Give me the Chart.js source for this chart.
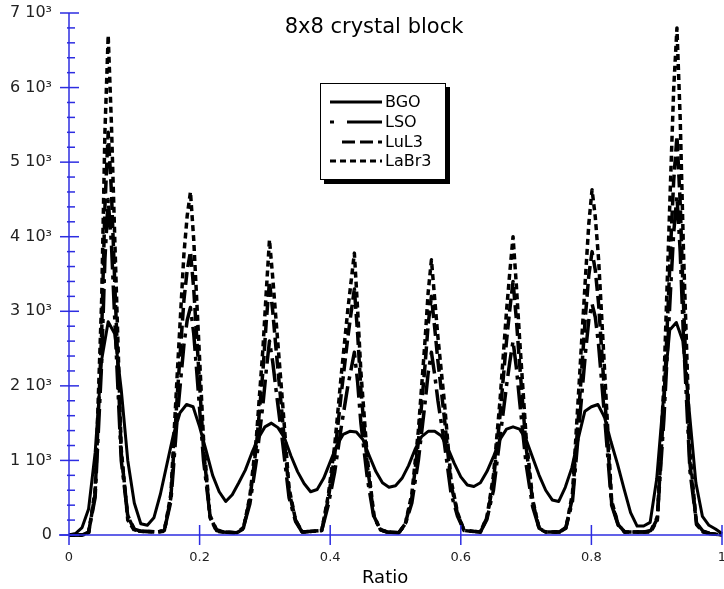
<!DOCTYPE html>
<html>
<head>
<meta charset="utf-8">
<script src="https://cdn.jsdelivr.net/npm/chart.js@4/dist/chart.umd.min.js"></script>
<style>
  html, body { margin: 0; padding: 0; background: #fff; }
  #wrap { width: 724px; height: 589px; }
</style>
</head>
<body>
<div id="wrap"><canvas id="c" width="724" height="589"></canvas></div>
<script>
// ---------------- DATA ----------------
const chartTitle = '8x8 crystal block';
const xAxisTitle = 'Ratio';
const seriesNames = ['BGO', 'LSO', 'LuL3', 'LaBr3'];
const xTickLabels = ['0', '0.2', '0.4', '0.6', '0.8', '1'];
const yTickLabels = ['0', '1 10³', '2 10³', '3 10³', '4 10³', '5 10³', '6 10³', '7 10³'];

// BGO (broad peaks) sampled every 0.01 in ratio
const bgoRatio = [
  0.00, 0.01, 0.02, 0.03, 0.04, 0.05, 0.06, 0.07, 0.08, 0.09,
  0.10, 0.11, 0.12, 0.13, 0.14, 0.15, 0.16, 0.17, 0.18, 0.19,
  0.20, 0.21, 0.22, 0.23, 0.24, 0.25, 0.26, 0.27, 0.28, 0.29,
  0.30, 0.31, 0.32, 0.33, 0.34, 0.35, 0.36, 0.37, 0.38, 0.39,
  0.40, 0.41, 0.42, 0.43, 0.44, 0.45, 0.46, 0.47, 0.48, 0.49,
  0.50, 0.51, 0.52, 0.53, 0.54, 0.55, 0.56, 0.57, 0.58, 0.59,
  0.60, 0.61, 0.62, 0.63, 0.64, 0.65, 0.66, 0.67, 0.68, 0.69,
  0.70, 0.71, 0.72, 0.73, 0.74, 0.75, 0.76, 0.77, 0.78, 0.79,
  0.80, 0.81, 0.82, 0.83, 0.84, 0.85, 0.86, 0.87, 0.88, 0.89,
  0.90, 0.91, 0.92, 0.93, 0.94, 0.95, 0.96, 0.97, 0.98, 0.99,
  1.00
];
const bgoCounts = [
  0, 20, 100, 350, 1100, 2350, 2860, 2700, 1950, 1000,
  430, 150, 130, 230, 550, 950, 1350, 1640, 1750, 1720,
  1450, 1130, 800, 580, 450, 540, 700, 870, 1100, 1300,
  1450, 1500, 1440, 1300, 1060, 850, 690, 580, 610, 760,
  980, 1200, 1350, 1390, 1380, 1280, 1060, 850, 700, 640,
  660, 760, 930, 1150, 1320, 1390, 1390, 1330, 1170, 960,
  780, 670, 650, 700, 850, 1050, 1280, 1420, 1450, 1420,
  1280, 1040, 800, 600, 470, 450, 640, 900, 1300, 1660,
  1720, 1750, 1580, 1250, 950, 620, 300, 120, 120, 170,
  750, 1800, 2750, 2850, 2600, 1650, 700, 250, 130, 80,
  20
];

// Narrow-peak crystals share one set of ratio samples
const sharpRatio = [
  0,
  0.010, 0.020, 0.030, 0.040, 0.050, 0.055, 0.060, 0.065, 0.070, 0.080, 0.090, 0.100, 0.110,
  0.136, 0.146, 0.156, 0.166, 0.176, 0.181, 0.186, 0.191, 0.196, 0.206, 0.216, 0.226, 0.236,
  0.257, 0.267, 0.277, 0.287, 0.297, 0.302, 0.307, 0.312, 0.317, 0.327, 0.337, 0.347, 0.357,
  0.387, 0.397, 0.407, 0.417, 0.427, 0.432, 0.437, 0.442, 0.447, 0.457, 0.467, 0.477, 0.487,
  0.505, 0.515, 0.525, 0.535, 0.545, 0.550, 0.555, 0.560, 0.565, 0.575, 0.585, 0.595, 0.605,
  0.630, 0.640, 0.650, 0.660, 0.670, 0.675, 0.680, 0.685, 0.690, 0.700, 0.710, 0.720, 0.730,
  0.751, 0.761, 0.771, 0.781, 0.791, 0.796, 0.801, 0.806, 0.811, 0.821, 0.831, 0.841, 0.851,
  0.881, 0.891, 0.901, 0.911, 0.921, 0.926, 0.931, 0.936, 0.941, 0.951, 0.961, 0.971, 0.981,
  1.0
];
const lsoCounts = [
  0,
  0, 0, 40, 500, 2300, 3700, 4500, 3900, 2900, 1000, 260, 80, 50,
  40, 70, 450, 1600, 2550, 2880, 3050, 2700, 2150, 1000, 260, 70, 40,
  30, 100, 420, 1000, 1750, 2200, 2600, 2320, 1950, 1250, 500, 180, 40,
  60, 400, 850, 1450, 2000, 2220, 2450, 2050, 1500, 750, 230, 70, 40,
  30, 140, 430, 1000, 1750, 2170, 2450, 2150, 1800, 1220, 560, 250, 60,
  40, 210, 600, 1300, 2000, 2320, 2600, 2250, 1800, 950, 380, 90, 40,
  40, 100, 450, 1450, 2450, 2880, 3100, 2920, 2550, 1500, 400, 130, 40,
  40, 60, 240, 1550, 3250, 4050, 4550, 3800, 2650, 850, 160, 50, 20,
  0
];
const lul3Counts = [
  0,
  0, 0, 30, 550, 2700, 4400, 5400, 4600, 3400, 1100, 250, 70, 50,
  40, 60, 500, 1900, 3150, 3550, 3800, 3300, 2600, 1150, 250, 60, 40,
  30, 90, 480, 1200, 2200, 2850, 3400, 3000, 2500, 1550, 580, 200, 40,
  60, 480, 1080, 1900, 2650, 2980, 3300, 2700, 1950, 920, 250, 70, 40,
  30, 150, 500, 1250, 2250, 2820, 3200, 2780, 2330, 1560, 680, 280, 60,
  40, 230, 720, 1600, 2600, 3020, 3400, 2900, 2300, 1180, 450, 90, 40,
  40, 100, 500, 1700, 2950, 3480, 3800, 3550, 3100, 1780, 430, 140, 40,
  40, 50, 220, 1750, 3800, 4750, 5350, 4450, 3100, 950, 150, 50, 20,
  0
];
const labr3Counts = [
  0,
  0, 0, 20, 600, 3150, 5400, 6700, 5500, 4000, 1150, 200, 60, 50,
  40, 50, 550, 2200, 3770, 4280, 4600, 3960, 3080, 1290, 230, 50, 40,
  30, 80, 520, 1310, 2500, 3250, 3960, 3450, 2890, 1780, 630, 200, 40,
  60, 530, 1210, 2150, 3020, 3400, 3780, 3020, 2190, 1020, 260, 70, 40,
  30, 150, 550, 1400, 2580, 3250, 3690, 3170, 2650, 1770, 740, 300, 60,
  40, 240, 800, 1800, 3000, 3520, 4000, 3360, 2640, 1320, 480, 80, 40,
  40, 90, 560, 2000, 3470, 4170, 4630, 4260, 3700, 2080, 460, 140, 40,
  40, 40, 200, 2040, 4690, 5980, 6800, 5580, 3810, 1090, 140, 40, 20,
  0
];

// ---------------- STYLE ----------------
const FONT = '"DejaVu Sans", "Liberation Sans", sans-serif';
const AXIS_BLUE = 'rgb(45,45,225)';
const dashes = {
  BGO: [],
  LSO: [24, 6, 4, 6],
  LuL3: [13, 5],
  LaBr3: [6, 4]
};
const widths = { BGO: 3, LSO: 3.5, LuL3: 3.5, LaBr3: 3.5 };

const toPoints = (xs, ys) => xs.map((v, i) => ({ x: v, y: ys[i] }));

function makeSet(name, xs, ys) {
  return {
    label: name,
    data: toPoints(xs, ys),
    borderColor: '#000',
    borderWidth: widths[name],
    borderDash: dashes[name],
    borderJoinStyle: 'round',
    pointRadius: 0,
    tension: 0,
    fill: false,
    clip: false
  };
}

const decorPlugin = {
  id: 'decor',
  afterDatasetsDraw(chart) {
    const { ctx, scales: { x, y } } = chart;
    const x0 = x.getPixelForValue(0);
    const y0 = y.getPixelForValue(0);
    const yTop = y.getPixelForValue(7000);
    const xEnd = x.getPixelForValue(1);
    ctx.save();
    ctx.strokeStyle = AXIS_BLUE;
    ctx.lineWidth = 1.5;
    ctx.setLineDash([]);
    const seg = (a, b, c, d) => { ctx.beginPath(); ctx.moveTo(a, b); ctx.lineTo(c, d); ctx.stroke(); };
    // axis lines
    seg(x0, yTop, x0, y0 + 10);
    seg(x0 - 10, y0, xEnd, y0);
    // y ticks
    for (let v = 0; v <= 7000; v += 200) {
      const py = y.getPixelForValue(v);
      if (v % 1000 === 0) seg(x0 - 9, py, x0 + 10, py);
      else seg(x0 - 2, py, x0 + 6, py);
    }
    // x ticks
    for (let i = 1; i < xTickLabels.length; i++) {
      const px = x.getPixelForValue(i * 0.2);
      seg(px, y0 - 10, px, y0 + 10);
    }

    // title + axis title
    ctx.fillStyle = '#000';
    ctx.textBaseline = 'alphabetic';
    ctx.textAlign = 'center';
    ctx.font = '21px ' + FONT;
    ctx.fillText(chartTitle, 374, 33);
    ctx.textAlign = 'left';
    ctx.font = '18px ' + FONT;
    ctx.fillText(xAxisTitle, 362, 583);

    // legend box with shadow
    const bx = 320, by = 83, bw = 126, bh = 97;
    ctx.fillStyle = '#000';
    ctx.fillRect(bx + 4, by + 4, bw, bh);
    ctx.fillStyle = '#fff';
    ctx.fillRect(bx, by, bw, bh);
    ctx.strokeStyle = '#000';
    ctx.lineWidth = 1;
    ctx.strokeRect(bx + 0.5, by + 0.5, bw - 1, bh - 1);
    const rows = [102, 122, 142, 161];
    const legendDash = { BGO: [], LSO: [4, 13, 40], LuL3: [13, 5], LaBr3: [6, 4] };
    const legendStart = { BGO: 330, LSO: 330, LuL3: 342, LaBr3: 330 };
    ctx.lineWidth = 3;
    ctx.font = '16px ' + FONT;
    ctx.textBaseline = 'middle';
    seriesNames.forEach((n, i) => {
      ctx.strokeStyle = '#000';
      ctx.setLineDash(legendDash[n]);
      ctx.beginPath();
      ctx.moveTo(legendStart[n], rows[i]);
      ctx.lineTo(382, rows[i]);
      ctx.stroke();
      ctx.setLineDash([]);
      ctx.fillStyle = '#000';
      ctx.fillText(n, 385, rows[i] + 1);
    });
    ctx.restore();
  }
};

new Chart(document.getElementById('c'), {
  type: 'line',
  data: {
    datasets: [
      makeSet('BGO', bgoRatio, bgoCounts),
      makeSet('LSO', sharpRatio, lsoCounts),
      makeSet('LuL3', sharpRatio, lul3Counts),
      makeSet('LaBr3', sharpRatio, labr3Counts)
    ]
  },
  options: {
    responsive: false,
    devicePixelRatio: 1,
    animation: false,
    layout: { padding: { top: 13, right: 2, left: 0, bottom: 0 } },
    plugins: {
      legend: { display: false },
      title: { display: false },
      tooltip: { enabled: false }
    },
    scales: {
      x: {
        type: 'linear',
        min: 0,
        max: 1,
        grid: { display: false, drawTicks: false },
        border: { display: false },
        ticks: {
          stepSize: 0.2,
          padding: 15,
          color: '#222',
          font: { family: FONT, size: 13 },
          maxRotation: 0,
          callback: (v, i) => xTickLabels[i]
        },
        afterFit: s => { s.height = 54; s.paddingLeft = 0; s.paddingRight = 0; }
      },
      y: {
        type: 'linear',
        min: 0,
        max: 7000,
        grid: { display: false, drawTicks: false },
        border: { display: false },
        ticks: {
          stepSize: 1000,
          padding: 17,
          color: '#222',
          font: { family: FONT, size: 16 },
          callback: (v, i) => yTickLabels[i]
        },
        afterFit: s => { s.width = 69; s.paddingTop = 0; s.paddingBottom = 0; }
      }
    }
  },
  plugins: [decorPlugin]
});
</script>
</body>
</html>
